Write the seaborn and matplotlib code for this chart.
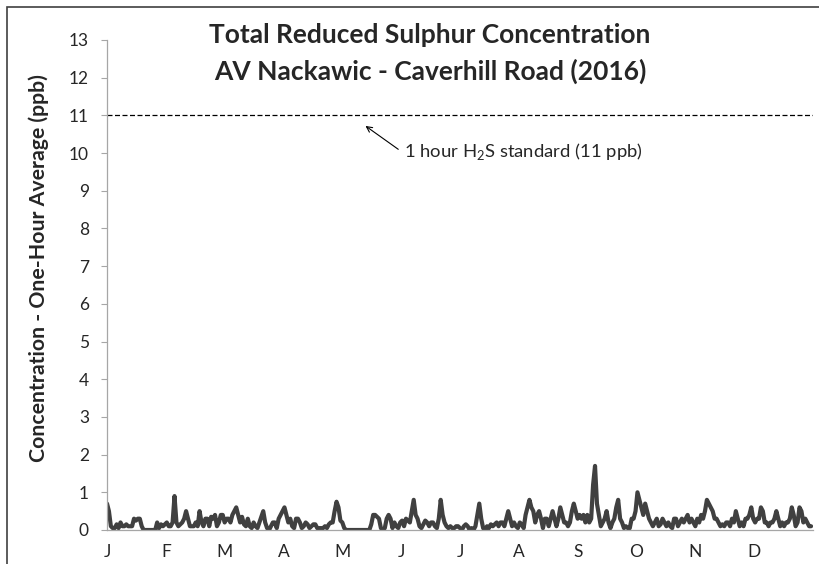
import matplotlib
matplotlib.use("Agg")
import matplotlib.pyplot as plt
import matplotlib.patches as mpatches
import numpy as np
import pandas as pd
import seaborn as sns

# ---- data (daily peak one-hour TRS, ppb) ----
month_labels = ["J", "F", "M", "A", "M", "J", "J", "A", "S", "O", "N", "D"]
standard_ppb = 11
trs_ppb = [
    0.7, 0.5, 0.1, 0.05, 0.05, 0.15, 0.05, 0.2, 0.1, 0.1,
    0.15, 0.1, 0.1, 0.1, 0.3, 0.25, 0.3, 0.3, 0.1, 0.0,
    0.0, 0.0, 0.0, 0.0, 0.0, 0.0, 0.2, 0.05, 0.15, 0.1,
    0.15, 0.2, 0.1, 0.1, 0.2, 0.9, 0.2, 0.1, 0.15, 0.2,
    0.3, 0.5, 0.3, 0.1, 0.1, 0.1, 0.2, 0.1, 0.5, 0.2,
    0.1, 0.3, 0.3, 0.1, 0.35, 0.3, 0.4, 0.1, 0.2, 0.4,
    0.4, 0.2, 0.3, 0.3, 0.2, 0.4, 0.5, 0.6, 0.4, 0.2,
    0.35, 0.15, 0.1, 0.3, 0.1, 0.05, 0.2, 0.1, 0.05, 0.2,
    0.35, 0.5, 0.2, 0.05, 0.0, 0.1, 0.2, 0.2, 0.05, 0.3,
    0.4, 0.5, 0.6, 0.4, 0.2, 0.3, 0.1, 0.05, 0.3, 0.3,
    0.2, 0.05, 0.1, 0.2, 0.15, 0.05, 0.1, 0.15, 0.15, 0.05,
    0.05, 0.05, 0.05, 0.1, 0.05, 0.15, 0.2, 0.2, 0.5, 0.75,
    0.6, 0.25, 0.2, 0.05, 0.0, 0.0, 0.0, 0.0, 0.0, 0.0,
    0.0, 0.0, 0.0, 0.0, 0.0, 0.0, 0.0, 0.15, 0.4, 0.4,
    0.35, 0.3, 0.05, 0.0, 0.05, 0.3, 0.4, 0.3, 0.05, 0.2,
    0.1, 0.05, 0.2, 0.25, 0.1, 0.3, 0.25, 0.2, 0.5, 0.8,
    0.4, 0.3, 0.1, 0.05, 0.15, 0.25, 0.2, 0.1, 0.2, 0.2,
    0.1, 0.05, 0.3, 0.8, 0.4, 0.2, 0.1, 0.05, 0.1, 0.05,
    0.05, 0.1, 0.1, 0.05, 0.0, 0.1, 0.15, 0.1, 0.0, 0.05,
    0.0, 0.1, 0.4, 0.7, 0.3, 0.05, 0.0, 0.1, 0.05, 0.15,
    0.1, 0.15, 0.2, 0.1, 0.2, 0.2, 0.1, 0.3, 0.5, 0.3,
    0.1, 0.2, 0.1, 0.05, 0.2, 0.15, 0.05, 0.4, 0.6, 0.8,
    0.6, 0.5, 0.2, 0.4, 0.5, 0.3, 0.05, 0.3, 0.3, 0.1,
    0.3, 0.5, 0.3, 0.1, 0.3, 0.6, 0.4, 0.2, 0.2, 0.1,
    0.2, 0.5, 0.7, 0.5, 0.3, 0.4, 0.3, 0.4, 0.2, 0.4,
    0.2, 0.3, 1.2, 1.7, 0.7, 0.4, 0.1, 0.2, 0.3, 0.5,
    0.2, 0.05, 0.2, 0.3, 0.6, 0.8, 0.3, 0.2, 0.05, 0.1,
    0.05, 0.05, 0.3, 0.3, 0.5, 1.0, 0.8, 0.6, 0.4, 0.7,
    0.5, 0.3, 0.2, 0.1, 0.2, 0.3, 0.1, 0.15, 0.3, 0.2,
    0.1, 0.2, 0.1, 0.05, 0.3, 0.3, 0.1, 0.2, 0.3, 0.2,
    0.3, 0.4, 0.2, 0.3, 0.2, 0.1, 0.3, 0.2, 0.4, 0.3,
    0.5, 0.8, 0.7, 0.6, 0.5, 0.3, 0.3, 0.2, 0.1, 0.15,
    0.1, 0.2, 0.2, 0.1, 0.3, 0.2, 0.5, 0.3, 0.1, 0.2,
    0.1, 0.3, 0.3, 0.4, 0.6, 0.3, 0.2, 0.3, 0.3, 0.6,
    0.5, 0.2, 0.2, 0.1, 0.2, 0.2, 0.3, 0.5, 0.3, 0.1,
    0.2, 0.1, 0.2, 0.2, 0.3, 0.6, 0.4, 0.1, 0.2, 0.6,
    0.5, 0.2, 0.3, 0.2, 0.1, 0.1,
]
n_days = len(trs_ppb)
df = pd.DataFrame({"day": np.arange(n_days), "ppb": trs_ppb})

sns.set_style("white")
FONT = ["Lato", "DejaVu Sans"]
plt.rcParams["font.family"] = FONT
plt.rcParams["mathtext.fontset"] = "custom"
plt.rcParams["mathtext.rm"] = "Lato"

fig = plt.figure(figsize=(8.2, 5.64), dpi=100)
ax = fig.add_axes([107 / 820, 34 / 564, 706 / 820, 490 / 564])

sns.lineplot(data=df, x="day", y="ppb", ax=ax, color="#404040", linewidth=3.0)
ax.axhline(standard_ppb, color="black", linestyle=(0, (4, 2)), linewidth=0.9)

ax.set_xlim(0, n_days)
ax.set_ylim(0, 13)
ax.set_yticks(range(0, 14))
ax.set_yticklabels([str(v) for v in range(0, 14)], fontsize=12.5)
ax.set_xticks([i * n_days / 12 for i in range(12)])
ax.set_xticklabels(month_labels, fontsize=12.5)
ax.tick_params(axis="x", length=0, pad=10)
ax.tick_params(axis="y", length=4, width=0.8, color="#a6a6a6", direction="out", pad=9, left=True)
ax.set_xlabel("")
ax.set_ylabel("")
for s in ["top", "right"]:
    ax.spines[s].set_visible(False)
for s in ["left", "bottom"]:
    ax.spines[s].set_color("#a6a6a6")
    ax.spines[s].set_linewidth(0.9)

fig.text(39 / 820, 1 - 268 / 564, "Concentration - One-Hour Average (ppb)",
         rotation=90, ha="center", va="center", fontsize=15.3, fontweight="bold")

fig.text(430 / 820, 1 - 35 / 564, "Total Reduced Sulphur Concentration",
         ha="center", va="center", fontsize=19, fontweight="bold")
fig.text(430 / 820, 1 - 71 / 564, "AV Nackawic - Caverhill Road (2016)",
         ha="center", va="center", fontsize=19, fontweight="bold")

# annotation for the standard line
ax.annotate("", xy=(134, 10.72), xytext=(151, 10.1),
            arrowprops=dict(arrowstyle="->", color="black", lw=0.8,
                            shrinkA=0, shrinkB=0))
ax.text(154, 10.03, r"1 hour H$_\mathrm{2}$S standard (11 ppb)",
        ha="left", va="center", fontsize=13.3)

# outer chart frame (top and left edges visible)
fig.patches.append(mpatches.Rectangle((7 / 820, -0.2), 1.5, 0.2 + 1 - 7 / 564,
                                      transform=fig.transFigure, fill=False,
                                      edgecolor="#404040", linewidth=1.2))

fig.savefig("out.png", dpi=100)
